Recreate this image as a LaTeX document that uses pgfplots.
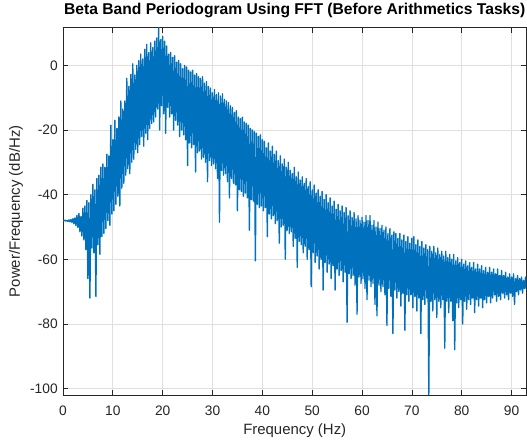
\documentclass[border=0pt]{standalone}
\usepackage{fontspec}
\setmainfont{Liberation Sans}
\usepackage{pgfplots}
\pgfplotsset{compat=1.18}
\definecolor{mblue}{RGB}{0,114,189}
\definecolor{gridc}{RGB}{223,223,223}
\definecolor{axc}{RGB}{38,38,38}
\begin{document}
\begin{tikzpicture}
\path[use as bounding box] (-63bp,-45bp) rectangle (464bp,395bp);
\begin{axis}[
 at={(0,0)}, anchor=south west, scale only axis,
 width=463.5bp, height=367.4bp,
 xmin=0, xmax=93, ymin=-102, ymax=11.7,
 xtick={0,10,...,90}, ytick={-100,-80,...,0},
 xtick pos=both, ytick pos=both, xticklabel pos=lower, yticklabel pos=left,
 tick align=inside, major tick length=5bp,
 grid=major, grid style={gridc, line width=0.7bp},
 axis line style={axc, line width=0.7bp},
 every tick/.style={axc, line width=0.7bp},
 tick label style={font=\fontsize{13.8}{16}\selectfont, text=axc},
 xticklabel style={anchor=base, yshift=-20.7bp},
 yticklabel style={anchor=east, xshift=-1.8bp},
 /pgf/number format/assume math mode=true,
 xlabel={Frequency (Hz)}, ylabel={Power/Frequency (dB/Hz)},
 label style={font=\fontsize{15}{17}\selectfont, text=axc},
 xlabel style={at={([yshift=-39bp]axis description cs:0.5,0)}, anchor=base},
 ylabel style={at={([xshift=-43bp]axis description cs:0,0.5)}, anchor=base},
 title={Beta Band Periodogram Using FFT (Before Arithmetics Tasks)},
 title style={at={([yshift=7.6bp]axis description cs:0.5,1)}, anchor=base, font=\bfseries\fontsize{15.7}{18}\selectfont},
]
\addplot[mblue, line width=1.35bp, line join=round] coordinates {
(0,-48.0)(0.2,-48.1)(0.4,-47.9)(0.6,-48.2)(0.8,-48.0)(1.0,-48.3)(1.2,-47.8)(1.4,-48.4)(1.6,-47.7)(1.8,-48.6)
(2.0,-47.4)(2.2,-49.0)(2.4,-47.2)(2.6,-49.6)(2.8,-46.4)(3.0,-50.2)(3.2,-45.8)(3.4,-51.5)(3.6,-46.8)(3.8,-52.8)
(4.0,-44.2)(4.2,-54.0)(4.4,-43.5)(4.6,-57.0)(4.8,-41.8)(5.0,-66.0)(5.2,-42.5)(5.4,-72.0)(5.6,-40.0)(5.8,-56.5)
(6.0,-36.8)(6.2,-58.0)(6.4,-38.5)(6.6,-71.5)(6.8,-35.0)(7.0,-55.5)(7.2,-34.0)(7.4,-58.5)(7.6,-31.5)(7.8,-53.0)
(8.0,-30.5)(8.2,-52.0)(8.4,-31.5)(8.6,-50.5)(8.8,-27.5)(9.0,-48.0)(9.2,-28.0)(9.4,-49.5)(9.6,-18.5)(9.8,-46.0)
(10.0,-23.0)(10.2,-45.0)(10.4,-17.0)(10.6,-43.0)(10.8,-19.5)(11.0,-40.5)(11.2,-16.0)(11.4,-43.5)(11.6,-11.0)(11.8,-38.0)
(12.0,-13.5)(12.2,-36.5)(12.4,-11.0)(12.6,-34.0)(12.8,-4.0)(13.0,-32.0)(13.2,-6.5)(13.4,-33.5)(13.6,-2.8)(13.8,-30.0)
(14.0,0.5)(14.2,-29.0)(14.4,-3.0)(14.6,-26.0)(14.8,0.0)(15.0,-27.0)(15.2,1.5)(15.4,-24.5)(15.6,3.5)(15.8,-22.0)
(16.0,2.0)(16.2,-25.0)(16.4,5.0)(16.6,-21.0)(16.8,6.5)(17.0,-23.0)(17.2,4.0)(17.4,-19.5)(17.6,7.0)(17.8,-18.0)
(18.0,5.5)(18.2,-17.5)(18.4,7.5)(18.6,-16.0)(18.8,8.5)(19.0,-13.5)(19.2,11.7)(19.4,-20.0)(19.6,8.0)(19.8,-12.5)
(20.0,9.0)(20.2,-15.0)(20.4,7.5)(20.6,-21.0)(20.8,6.0)(21.0,-13.0)(21.2,3.5)(21.4,-16.0)(21.6,4.0)(21.8,-15.0)
(22.0,2.5)(22.2,-20.0)(22.4,3.0)(22.6,-17.0)(22.8,1.0)(23.0,-18.5)(23.2,1.5)(23.4,-22.0)(23.6,0.5)(23.8,-20.0)
(24.0,-1.0)(24.2,-21.5)(24.4,0.0)(24.6,-23.0)(24.8,-0.5)(25.0,-31.0)(25.2,-1.5)(25.4,-24.0)(25.6,-2.0)(25.8,-25.5)
(26.0,-1.5)(26.2,-24.5)(26.4,-3.0)(26.6,-33.0)(26.8,-2.5)(27.0,-27.0)(27.2,-3.5)(27.4,-26.5)(27.6,-4.0)(27.8,-29.0)
(28.0,-3.5)(28.2,-28.5)(28.4,-5.5)(28.6,-30.0)(28.8,-5.0)(29.0,-36.0)(29.2,-6.5)(29.4,-29.5)(29.6,-7.0)(29.8,-31.0)
(30.0,-8.5)(30.2,-30.5)(30.4,-7.5)(30.6,-32.0)(30.8,-9.0)(31.0,-35.0)(31.2,-8.5)(31.4,-48.5)(31.6,-9.5)(31.8,-32.5)
(32.0,-8.8)(32.2,-34.0)(32.4,-10.5)(32.6,-33.5)(32.8,-11.0)(33.0,-36.0)(33.2,-11.5)(33.4,-41.0)(33.6,-12.5)(33.8,-35.0)
(34.0,-13.0)(34.2,-36.5)(34.4,-14.5)(34.6,-37.0)(34.8,-14.0)(35.0,-45.0)(35.2,-16.0)(35.4,-38.5)(35.6,-16.5)(35.8,-39.0)
(36.0,-16.0)(36.2,-40.5)(36.4,-17.5)(36.6,-39.5)(36.8,-18.0)(37.0,-41.0)(37.2,-18.5)(37.4,-51.0)(37.6,-19.5)(37.8,-41.5)
(38.0,-20.0)(38.2,-42.0)(38.4,-20.5)(38.6,-60.5)(38.8,-21.0)(39.0,-43.0)(39.2,-22.0)(39.4,-44.0)(39.6,-21.5)(39.8,-43.5)
(40.0,-23.0)(40.2,-45.0)(40.4,-23.5)(40.6,-44.0)(40.8,-25.5)(41.0,-53.0)(41.2,-24.0)(41.4,-46.0)(41.6,-26.5)(41.8,-47.5)
(42.0,-25.0)(42.2,-46.5)(42.4,-27.5)(42.6,-49.0)(42.8,-26.5)(43.0,-48.0)(43.2,-29.5)(43.4,-55.0)(43.6,-28.0)(43.8,-50.0)
(44.0,-30.5)(44.2,-49.5)(44.4,-29.0)(44.6,-60.0)(44.8,-31.5)(45.0,-51.0)(45.2,-30.0)(45.4,-52.0)(45.6,-32.5)(45.8,-51.5)
(46.0,-33.5)(46.2,-56.0)(46.4,-31.5)(46.6,-53.5)(46.8,-34.5)(47.0,-62.5)(47.2,-33.0)(47.4,-54.5)(47.6,-35.5)(47.8,-55.5)
(48.0,-34.5)(48.2,-58.0)(48.4,-36.5)(48.6,-56.0)(48.8,-35.0)(49.0,-60.0)(49.2,-37.5)(49.4,-57.0)(49.6,-36.0)(49.8,-68.5)
(50.0,-38.5)(50.2,-58.0)(50.4,-37.0)(50.6,-61.0)(50.8,-39.5)(51.0,-59.0)(51.2,-38.5)(51.4,-63.0)(51.6,-40.5)(51.8,-60.0)
(52.0,-39.0)(52.2,-69.5)(52.4,-41.5)(52.6,-61.0)(52.8,-40.0)(53.0,-64.0)(53.2,-42.5)(53.4,-61.5)(53.6,-41.0)(53.8,-66.0)
(54.0,-43.5)(54.2,-62.0)(54.4,-42.0)(54.6,-69.5)(54.8,-44.5)(55.0,-63.0)(55.2,-43.0)(55.4,-65.0)(55.6,-45.0)(55.8,-63.5)
(56.0,-43.5)(56.2,-67.0)(56.4,-45.5)(56.6,-64.0)(56.8,-44.0)(57.0,-79.5)(57.2,-46.5)(57.4,-64.5)(57.6,-45.0)(57.8,-66.0)
(58.0,-47.0)(58.2,-65.0)(58.4,-45.5)(58.6,-68.0)(58.8,-47.5)(59.0,-77.0)(59.2,-46.5)(59.4,-65.5)(59.6,-48.0)(59.8,-67.5)
(60.0,-47.0)(60.2,-66.0)(60.4,-48.5)(60.6,-69.0)(60.8,-46.5)(61.0,-72.5)(61.2,-48.0)(61.4,-66.5)(61.6,-46.5)(61.8,-68.5)
(62.0,-49.5)(62.2,-67.5)(62.4,-48.0)(62.6,-74.0)(62.8,-50.0)(63.0,-77.5)(63.2,-48.5)(63.4,-68.0)(63.6,-50.5)(63.8,-70.0)
(64.0,-49.5)(64.2,-68.5)(64.4,-51.0)(64.6,-71.0)(64.8,-50.0)(65.0,-80.5)(65.2,-52.0)(65.4,-69.0)(65.6,-50.5)(65.8,-71.5)
(66.0,-52.5)(66.2,-83.0)(66.4,-51.5)(66.6,-69.5)(66.8,-52.0)(67.0,-72.0)(67.2,-53.5)(67.4,-70.0)(67.6,-52.0)(67.8,-74.5)
(68.0,-54.0)(68.2,-70.5)(68.4,-52.5)(68.6,-82.0)(68.8,-54.5)(69.0,-71.0)(69.2,-53.0)(69.4,-73.0)(69.6,-55.0)(69.8,-71.0)
(70.0,-53.5)(70.2,-75.0)(70.4,-53.0)(70.6,-71.5)(70.8,-55.5)(71.0,-76.0)(71.2,-54.0)(71.4,-72.0)(71.6,-56.0)(71.8,-83.0)
(72.0,-54.5)(72.2,-72.5)(72.4,-56.5)(72.6,-74.0)(72.8,-55.5)(73.0,-72.0)(73.2,-57.0)(73.4,-102.0)(73.6,-56.0)(73.8,-73.0)
(74.0,-57.5)(74.2,-76.0)(74.4,-56.0)(74.6,-72.5)(74.8,-58.0)(75.0,-78.0)(75.2,-56.5)(75.4,-73.0)(75.6,-58.5)(75.8,-75.0)
(76.0,-57.5)(76.2,-72.5)(76.4,-59.0)(76.6,-87.5)(76.8,-57.5)(77.0,-73.0)(77.2,-59.5)(77.4,-76.5)(77.6,-58.5)(77.8,-73.0)
(78.0,-60.0)(78.2,-79.0)(78.4,-58.5)(78.6,-88.0)(78.8,-60.5)(79.0,-73.5)(79.2,-59.5)(79.4,-75.0)(79.6,-61.0)(79.8,-72.5)
(80.0,-60.0)(80.2,-80.0)(80.4,-61.5)(80.6,-73.0)(80.8,-60.5)(81.0,-75.5)(81.2,-62.0)(81.4,-72.5)(81.6,-61.0)(81.8,-74.0)
(82.0,-62.5)(82.2,-72.0)(82.4,-61.0)(82.6,-76.5)(82.8,-63.0)(83.0,-72.5)(83.2,-61.5)(83.4,-74.5)(83.6,-63.0)(83.8,-72.0)
(84.0,-62.0)(84.2,-75.0)(84.4,-63.5)(84.6,-72.5)(84.8,-62.5)(85.0,-73.5)(85.2,-64.0)(85.4,-71.5)(85.6,-62.5)(85.8,-73.5)
(86.0,-64.0)(86.2,-72.0)(86.4,-63.0)(86.6,-71.0)(86.8,-64.5)(87.0,-73.0)(87.2,-63.0)(87.4,-71.5)(87.6,-65.0)(87.8,-72.5)
(88.0,-63.5)(88.2,-70.5)(88.4,-65.0)(88.6,-72.0)(88.8,-64.0)(89.0,-71.0)(89.2,-65.5)(89.4,-72.5)(89.6,-64.5)(89.8,-70.5)
(90.0,-65.5)(90.2,-71.5)(90.4,-64.5)(90.6,-74.0)(90.8,-66.0)(91.0,-70.0)(91.2,-65.0)(91.4,-71.0)(91.6,-66.0)(91.8,-69.5)
(92.0,-65.5)(92.2,-70.5)(92.4,-66.5)(92.6,-69.0)(92.8,-65.5)(93.0,-69.5)
};
\end{axis}
\end{tikzpicture}
\end{document}
